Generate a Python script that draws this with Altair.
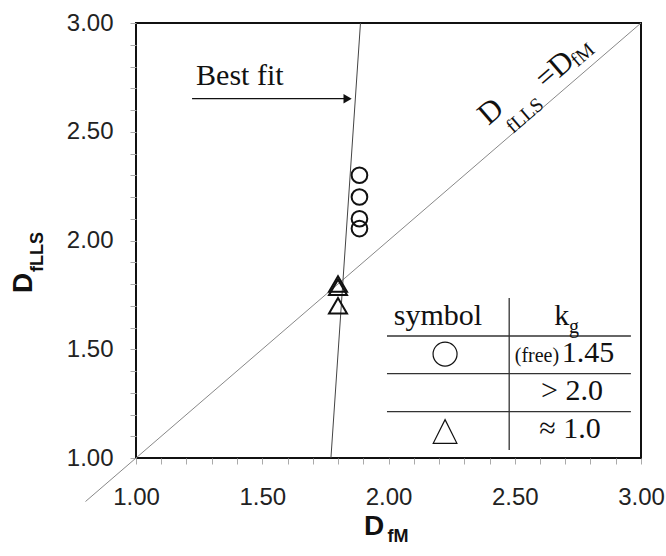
import altair as alt
import pandas as pd

# Fractal dimension from the mass method (D_fM) vs. from light scattering (D_fLLS)
circle_dfm = [1.885, 1.885, 1.885, 1.885]
circle_dflls = [2.30, 2.20, 2.10, 2.055]
triangle_dfm = [1.80, 1.80, 1.80]
triangle_dflls = [1.80, 1.785, 1.70]

# Best-fit line end points and the D_fLLS = D_fM identity line
fit_dfm = [1.772, 1.889]
fit_dflls = [1.00, 3.00]
identity_vals = [0.80, 3.00]

# Axis ticks every 0.1, labels every 0.5
tick_vals = [round(1.0 + 0.1 * i, 1) for i in range(21)]

X_DOM = [1.0, 3.0]
Y_DOM = [1.0, 3.0]
label_expr = "abs(round(datum.value * 2) - datum.value * 2) < 0.001 ? format(datum.value, '.2f') : ''"

xs = alt.Scale(domain=X_DOM, nice=False, zero=False)
ys = alt.Scale(domain=Y_DOM, nice=False, zero=False)

x_axis = alt.Axis(values=tick_vals, labelExpr=label_expr, title=None, grid=False, domain=False,
                  tickSize=6, tickColor="#aaa", labelFont="Liberation Sans", labelFontSize=24,
                  labelColor="#222", labelPadding=21, labelOverlap=False, labelFlush=False)
y_axis = alt.Axis(values=tick_vals, labelExpr=label_expr, title=None, grid=False, domain=False,
                  tickSize=6, tickColor="#aaa", labelFont="Liberation Sans", labelFontSize=24,
                  labelColor="#222", labelPadding=17, labelOverlap=False, labelFlush=False)

INK = "#111"
SERIF = "Liberation Serif"
SANS = "Liberation Sans"


def X(field="x"):
    return alt.X(f"{field}:Q", scale=xs, axis=x_axis)


def Y(field="y"):
    return alt.Y(f"{field}:Q", scale=ys, axis=y_axis)


# identity line (extends past the lower-left corner)
ident_df = pd.DataFrame({"x": identity_vals, "y": identity_vals})
identity = alt.Chart(ident_df).mark_line(color="#888", strokeWidth=1, clip=False).encode(
    x=X(), y=Y())

fit_df = pd.DataFrame({"x": fit_dfm, "y": fit_dflls})
fit = alt.Chart(fit_df).mark_line(color="#444", strokeWidth=1).encode(x=X(), y=Y())

circ_df = pd.DataFrame({"x": circle_dfm, "y": circle_dflls})
circles = alt.Chart(circ_df).mark_point(shape="circle", filled=False, size=246, strokeWidth=2,
                                        color=INK, opacity=1).encode(x=X(), y=Y())

tri_df = pd.DataFrame({"x": triangle_dfm, "y": triangle_dflls})
triangles = alt.Chart(tri_df).mark_point(shape="triangle-up", filled=False, size=324, strokeWidth=2,
                                         color=INK, opacity=1).encode(x=X(), y=Y())

# "Best fit" arrow
arrow_df = pd.DataFrame({"x": [1.222], "x2": [1.835], "y": [2.652]})
shaft = alt.Chart(arrow_df).mark_rule(color=INK, strokeWidth=1.2).encode(
    x=X(), x2="x2:Q", y=Y())
head_df = pd.DataFrame({"x": [1.838], "y": [2.652]})
head = alt.Chart(head_df).mark_point(shape="triangle-right", filled=True, size=90, color=INK,
                                     opacity=1).encode(x=X(), y=Y())
best_df = pd.DataFrame({"x": [1.238], "y": [2.715], "t": ["Best fit"]})
best = alt.Chart(best_df).mark_text(font=SERIF, fontSize=30, align="left", baseline="alphabetic",
                                    color=INK).encode(x=X(), y=Y(), text="t:N")

# rotated label along the identity line
diag_big_df = pd.DataFrame({"x": [2.406, 2.659], "y": [2.591, 2.784], "t": ["D", "=D"]})
diag_big = alt.Chart(diag_big_df).mark_text(font=SERIF, fontSize=31, angle=319.3, align="center",
                                            baseline="middle", color=INK).encode(
    x=X(), y=Y(), text="t:N")
diag_sub_df = pd.DataFrame({"x": [2.541, 2.770], "y": [2.574, 2.853], "t": ["fLLS", "fM"]})
diag_sub = alt.Chart(diag_sub_df).mark_text(font=SERIF, fontSize=20, angle=319.3, align="center",
                                            baseline="middle", color=INK).encode(
    x=X(), y=Y(), text="t:N")

# symbol table
hline_df = pd.DataFrame({"x": [1.994, 1.994, 1.994], "x2": [2.960, 2.960, 2.960],
                         "y": [1.561, 1.388, 1.213]})
hlines = alt.Chart(hline_df).mark_rule(color="#333", strokeWidth=1.3).encode(
    x=X(), x2="x2:Q", y=Y())
vline_df = pd.DataFrame({"x": [2.478], "y": [1.037], "y2": [1.736]})
vline = alt.Chart(vline_df).mark_rule(color="#333", strokeWidth=1.3).encode(
    x=X(), y=Y(), y2="y2:Q")

tab_big_df = pd.DataFrame({
    "x": [2.196, 2.686, 2.790, 2.727, 2.719],
    "y": [1.611, 1.611, 1.443, 1.267, 1.090],
    "t": ["symbol", "k", "1.45", "> 2.0", "\u2248 1.0"],
})
tab_big = alt.Chart(tab_big_df).mark_text(font=SERIF, fontSize=30, align="center",
                                          baseline="alphabetic", color=INK).encode(
    x=X(), y=Y(), text="t:N")
tab_small_df = pd.DataFrame({"x": [2.735, 2.588], "y": [1.575, 1.443], "t": ["g", "(free)"]})
tab_small = alt.Chart(tab_small_df).mark_text(font=SERIF, fontSize=20, align="center",
                                              baseline="alphabetic", color=INK).encode(
    x=X(), y=Y(), text="t:N")

key_circ = alt.Chart(pd.DataFrame({"x": [2.224], "y": [1.478]})).mark_point(
    shape="circle", filled=False, size=576, strokeWidth=1.2, color=INK, opacity=1).encode(x=X(), y=Y())
key_tri = alt.Chart(pd.DataFrame({"x": [2.224], "y": [1.122]})).mark_point(
    shape="M0,-1L1,1L-1,1Z", filled=False, size=560, strokeWidth=1.2, color=INK, opacity=1).encode(
    x=X(), y=Y())

# axis titles with subscripts
xt_big = alt.Chart(pd.DataFrame({"x": [1.943], "y": [0.683], "t": ["D"]})).mark_text(
    font=SANS, fontSize=28, fontWeight="bold", align="center", baseline="middle", color=INK).encode(
    x=X(), y=Y(), text="t:N")
xt_sub = alt.Chart(pd.DataFrame({"x": [2.038], "y": [0.637], "t": ["fM"]})).mark_text(
    font=SANS, fontSize=18, fontWeight="bold", align="center", baseline="middle", color=INK).encode(
    x=X(), y=Y(), text="t:N")
yt_big = alt.Chart(pd.DataFrame({"x": [0.556], "y": [1.805], "t": ["D"]})).mark_text(
    font=SANS, fontSize=28, fontWeight="bold", angle=270, align="center", baseline="middle",
    color=INK).encode(x=X(), y=Y(), text="t:N")
yt_sub = alt.Chart(pd.DataFrame({"x": [0.612], "y": [1.947], "t": ["fLLS"]})).mark_text(
    font=SANS, fontSize=18, fontWeight="bold", angle=270, align="center", baseline="middle",
    color=INK).encode(x=X(), y=Y(), text="t:N")

chart = alt.layer(
    identity, fit, circles, triangles, shaft, head, best, diag_big, diag_sub,
    hlines, vline, tab_big, tab_small, key_circ, key_tri, xt_big, xt_sub, yt_big, yt_sub,
).properties(
    width=505, height=435,
    autosize="none",
    padding={"left": 136, "top": 23, "right": 25, "bottom": 98},
    background="white",
).configure_view(stroke="#111", strokeWidth=2)

chart.save("out.html", embed_options={"renderer": "svg", "actions": False})
